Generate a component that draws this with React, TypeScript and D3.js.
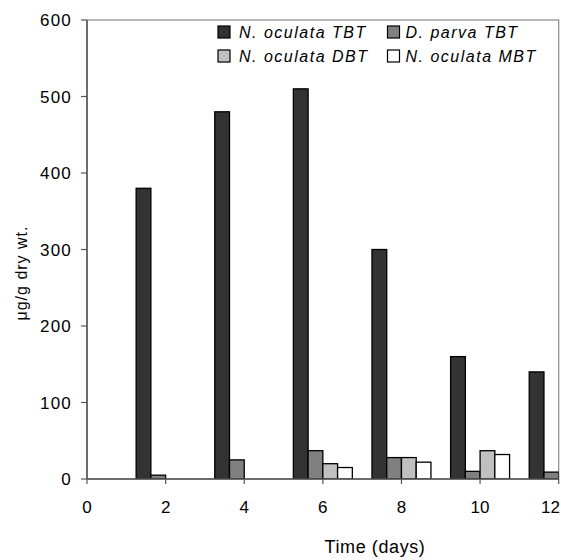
import React from "react";
import * as d3 from "d3";

const days = [2, 4, 6, 8, 10, 12];
const nOculataTBT = [380, 480, 510, 300, 160, 140];
const dParvaTBT = [5, 25, 37, 28, 10, 9];
const nOculataDBT = [0, 0, 20, 28, 37, 0];
const nOculataMBT = [0, 0, 15, 22, 32, 0];

const seriesNames = ["N. oculata TBT", "D. parva TBT", "N. oculata DBT", "N. oculata MBT"];
const seriesColors = ["#333333", "#808080", "#c0c0c0", "#ffffff"];
const xTicks = [0, 2, 4, 6, 8, 10, 12];
const yTicks = [0, 100, 200, 300, 400, 500, 600];

const W = 561;
const H = 560;
const left = 87;
const right = 558.7;
const top = 20;
const bottom = 479;

export default function App() {
  const x = d3.scaleLinear().domain([0, 12]).range([left, right]);
  const y = d3.scaleLinear().domain([0, 600]).range([bottom, top]);
  const seriesData = [nOculataTBT, dParvaTBT, nOculataDBT, nOculataMBT];
  const groupW = (x(2) - x(0)) * 0.75;
  const bw = groupW / 4;
  const font = "'Liberation Sans', Arial, sans-serif";

  const legendItems = [
    { i: 0, sx: 218, tx: 239, y: 37 },
    { i: 1, sx: 387.5, tx: 405.5, y: 37 },
    { i: 2, sx: 218, tx: 239, y: 61 },
    { i: 3, sx: 387.5, tx: 405.5, y: 61 },
  ];

  return (
    <svg width={W} height={H} style={{ position: "absolute", left: 0, top: 0, background: "#fff" }} fontFamily={font}>
      <defs>
        <clipPath id="plotClip">
          <rect x={left} y={top - 1} width={right - left} height={bottom - top + 1} />
        </clipPath>
      </defs>
      <rect x={0} y={0} width={W} height={H} fill="#fff" />
      {/* plot frame */}
      <rect x={left} y={top} width={right - left} height={bottom - top} fill="none" stroke="#8a8a8a" strokeWidth={1.2} />
      {/* bars */}
      <g clipPath="url(#plotClip)">
        {days.map((d, di) =>
          seriesData.map((s, si) => {
            const v = s[di];
            if (!v) return null;
            const bx = x(d) - groupW / 2 + si * bw;
            return (
              <rect key={`${di}-${si}`} x={bx} y={y(v)} width={bw} height={y(0) - y(v)}
                fill={seriesColors[si]} stroke="#000" strokeWidth={1.3} />
            );
          })
        )}
      </g>
      {/* axes */}
      <line x1={left} x2={left} y1={top} y2={bottom} stroke="#555" strokeWidth={1.5} />
      <line x1={left} x2={right} y1={bottom} y2={bottom} stroke="#555" strokeWidth={1.5} />
      {yTicks.map((t) => (
        <g key={t}>
          <line x1={left - 6} x2={left} y1={y(t)} y2={y(t)} stroke="#555" strokeWidth={1.2} />
          <text x={72} y={y(t) + 6} textAnchor="end" fontSize={17} letterSpacing={1.2} fill="#000">{t}</text>
        </g>
      ))}
      {xTicks.map((t) => (
        <g key={t}>
          <line x1={x(t)} x2={x(t)} y1={bottom} y2={bottom + 5} stroke="#555" strokeWidth={1.2} />
          <text x={t === 12 ? 560 : x(t)} y={513} textAnchor={t === 12 ? "end" : "middle"} fontSize={17} fill="#000">{t}</text>
        </g>
      ))}
      <text x={375} y={552.5} textAnchor="middle" fontSize={18} letterSpacing={0.6} fill="#000">Time (days)</text>
      <text transform={`translate(27,273) rotate(-90)`} textAnchor="middle" fontSize={16} letterSpacing={1} fill="#000">μg/g dry wt.</text>
      {/* legend */}
      {legendItems.map((it) => (
        <g key={it.i}>
          <rect x={it.sx} y={it.y - 11} width={12} height={12} fill={seriesColors[it.i]} stroke="#000" strokeWidth={1.2} />
          <text x={it.tx} y={it.y + 1} fontSize={16} fontStyle="italic" letterSpacing={1.5} fill="#000">{seriesNames[it.i]}</text>
        </g>
      ))}
    </svg>
  );
}
